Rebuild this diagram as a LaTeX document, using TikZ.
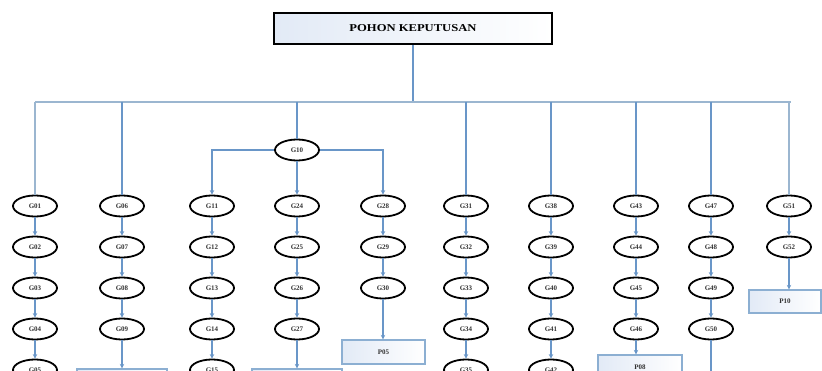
\documentclass[tikz,border=0pt]{standalone}
\usepackage{fontspec}
\setmainfont{Liberation Serif}
\usepackage{tikz}
\usetikzlibrary{positioning,shapes.geometric,arrows.meta}
\definecolor{linkblue}{RGB}{105,150,200}
\definecolor{busblue}{RGB}{155,182,208}
\definecolor{boxblue}{RGB}{140,175,210}
\definecolor{boxfill}{RGB}{226,234,246}
\tikzset{
  gnode/.style={ellipse, draw=black, line width=1.8pt, minimum width=44pt,
    minimum height=21pt, inner sep=0pt,
    font=\fontsize{7}{8}\selectfont\bfseries, text=black!80},
  pbox/.style={rectangle, draw=boxblue, line width=1.2pt, left color=boxfill,
    right color=white, minimum width=83pt, minimum height=24pt, inner sep=0pt,
    font=\fontsize{7}{8}\selectfont\bfseries, text=black!80},
  link/.style={draw=linkblue, line width=1.5pt},
  bus/.style={draw=busblue, line width=1.5pt},
}
\begin{document}
\begin{tikzpicture}[x=1pt, y=-1pt, node distance=18.2pt,
  >={Stealth[length=4.5pt,width=4.5pt]}]
  \useasboundingbox (0,0) rectangle (822,371);
  \clip (0,0) rectangle (822,371);

  % title
  \node (title) [rectangle, draw=black, line width=1.8pt, left color=boxfill,
    right color=white, minimum width=278pt, minimum height=31pt]
    at (413,28.5) {\scalebox{1.2}[1]{\fontsize{10.5}{12}\selectfont\bfseries POHON KEPUTUSAN}};
  \coordinate (busL) at (35,102);
  \coordinate (busR) at (791,102);
  \draw[link] (title.south) -- (title.south |- busL);
  \draw[bus] (busL) -- (busR);

  % column 1
  \node (g01) [gnode] at (35,206) {G01};
  \node (g02) [gnode, below=of g01] {G02} edge[<-,link] (g01);
  \node (g03) [gnode, below=of g02] {G03} edge[<-,link] (g02);
  \node (g04) [gnode, below=of g03] {G04} edge[<-,link] (g03);
  \node (g05) [gnode, below=of g04] {G05} edge[<-,link] (g04);

  % column 2
  \node (g06) [gnode] at (122,206) {G06};
  \node (g07) [gnode, below=of g06] {G07} edge[<-,link] (g06);
  \node (g08) [gnode, below=of g07] {G08} edge[<-,link] (g07);
  \node (g09) [gnode, below=of g08] {G09} edge[<-,link] (g08);
  \node (pg09) [pbox, minimum width=90pt] at (122,381) {};
  \draw[link,->] (g09) -- (pg09);

  % G10 branch
  \node (g10) [gnode] at (297,150) {G10};
  \node (g11) [gnode] at (212,206) {G11};
  \node (g24) [gnode] at (297,206) {G24};
  \node (g28) [gnode] at (383,206) {G28};
  \draw[link,->] (g10.west) -| (g11);
  \draw[link,->] (g10) -- (g24);
  \draw[link,->] (g10.east) -| (g28);

  \node (g12) [gnode, below=of g11] {G12} edge[<-,link] (g11);
  \node (g13) [gnode, below=of g12] {G13} edge[<-,link] (g12);
  \node (g14) [gnode, below=of g13] {G14} edge[<-,link] (g13);
  \node (g15) [gnode, below=of g14] {G15} edge[<-,link] (g14);

  \node (g25) [gnode, below=of g24] {G25} edge[<-,link] (g24);
  \node (g26) [gnode, below=of g25] {G26} edge[<-,link] (g25);
  \node (g27) [gnode, below=of g26] {G27} edge[<-,link] (g26);
  \node (pg27) [pbox, minimum width=90pt] at (297,381) {};
  \draw[link,->] (g27) -- (pg27);

  \node (g29) [gnode, below=of g28] {G29} edge[<-,link] (g28);
  \node (g30) [gnode, below=of g29] {G30} edge[<-,link] (g29);
  \node (p05) [pbox] at (383.5,352) {P05};
  \draw[link,->] (g30) -- (g30 |- p05.north);

  % column G31
  \node (g31) [gnode] at (466,206) {G31};
  \node (g32) [gnode, below=of g31] {G32} edge[<-,link] (g31);
  \node (g33) [gnode, below=of g32] {G33} edge[<-,link] (g32);
  \node (g34) [gnode, below=of g33] {G34} edge[<-,link] (g33);
  \node (g35) [gnode, below=of g34] {G35} edge[<-,link] (g34);

  % column G38
  \node (g38) [gnode] at (551,206) {G38};
  \node (g39) [gnode, below=of g38] {G39} edge[<-,link] (g38);
  \node (g40) [gnode, below=of g39] {G40} edge[<-,link] (g39);
  \node (g41) [gnode, below=of g40] {G41} edge[<-,link] (g40);
  \node (g42) [gnode, below=of g41] {G42} edge[<-,link] (g41);

  % column G43
  \node (g43) [gnode] at (636,206) {G43};
  \node (g44) [gnode, below=of g43] {G44} edge[<-,link] (g43);
  \node (g45) [gnode, below=of g44] {G45} edge[<-,link] (g44);
  \node (g46) [gnode, below=of g45] {G46} edge[<-,link] (g45);
  \node (p08) [pbox, minimum width=84pt] at (640,367) {P08};
  \draw[link,->] (g46) -- (g46 |- p08.north);

  % column G47
  \node (g47) [gnode] at (711,206) {G47};
  \node (g48) [gnode, below=of g47] {G48} edge[<-,link] (g47);
  \node (g49) [gnode, below=of g48] {G49} edge[<-,link] (g48);
  \node (g50) [gnode, below=of g49] {G50} edge[<-,link] (g49);
  \coordinate (g50end) at ([yshift=-40pt]g50.south);
  \draw[link] (g50) -- (g50end);

  % column G51
  \node (g51) [gnode] at (789,206) {G51};
  \node (g52) [gnode, below=of g51] {G52} edge[<-,link] (g51);
  \node (p10) [pbox, minimum width=72pt, minimum height=23pt] at (785,301.5) {P10};
  \draw[link,->] (g52) -- (g52 |- p10.north);

  % drops from the bus
  \foreach \top in {g01,g51}
    \draw[bus] (\top.north |- busL) -- (\top.north);
  \foreach \top in {g06,g10,g31,g38,g43,g47}
    \draw[link] (\top.north |- busL) -- (\top.north);
\end{tikzpicture}
\end{document}
